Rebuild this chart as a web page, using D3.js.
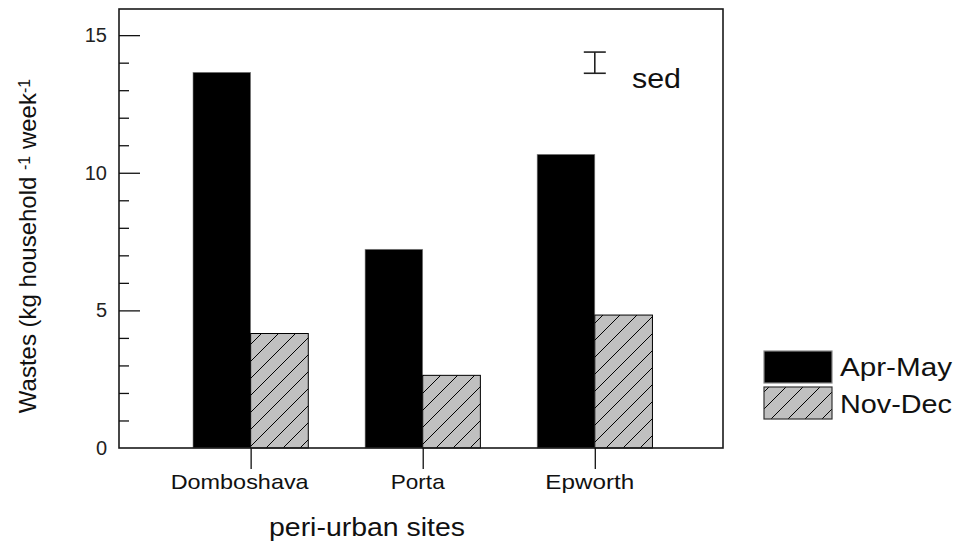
<!DOCTYPE html>
<html>
<head>
<meta charset="utf-8">
<script src="https://cdn.jsdelivr.net/npm/d3@7"></script>
<style>
  body { margin: 0; background: #fff; }
  svg { display: block; font-family: 'Liberation Sans', Arial, sans-serif; }
</style>
</head>
<body>
<svg id="chart"></svg>
<script>
// Data
const sites = ['Domboshava', 'Porta', 'Epworth'];
const aprMay = [13.65, 7.22, 10.67];
const novDec = [4.16, 2.64, 4.83];
const seriesNames = ['Apr-May', 'Nov-Dec'];
const yTicks = [0, 5, 10, 15];
const sedCentre = 14.0;
const sedValue = 0.77;

const width = 958;
const height = 544;
const plotLeft = 119, plotRight = 723, plotTop = 9, plotBottom = 448;

const svg = d3.select('#chart').attr('width', width).attr('height', height);

const x = d3.scaleLinear().domain([-0.765, 2.745]).range([plotLeft, plotRight]);
const y = d3.scaleLinear().domain([0, 15.95]).range([plotBottom, plotTop]);
const barW = x(0.335) - x(0);

// Hatch pattern for Nov-Dec
const defs = svg.append('defs');
const hs = 17;
const pat = defs.append('pattern')
  .attr('id', 'hatch')
  .attr('patternUnits', 'userSpaceOnUse')
  .attr('width', hs).attr('height', hs);
pat.append('rect').attr('width', hs).attr('height', hs).attr('fill', '#c0c0c0');
pat.append('path')
  .attr('d', `M0,${hs} L${hs},0 M-4,4 L4,-4 M${hs - 4},${hs + 4} L${hs + 4},${hs - 4}`)
  .attr('stroke', '#000').attr('stroke-width', 1);

const bars = sites.map((s, i) => ({ i, a: aprMay[i], n: novDec[i] }));

// Apr-May bars (left of tick)
svg.append('g').selectAll('rect')
  .data(bars)
  .join('rect')
  .attr('x', d => x(d.i) - barW)
  .attr('y', d => y(d.a))
  .attr('width', barW)
  .attr('height', d => y(0) - y(d.a))
  .attr('fill', '#000')
  .attr('stroke', '#888')
  .attr('stroke-width', 0.6);

// Nov-Dec bars (right of tick)
svg.append('g').selectAll('rect')
  .data(bars)
  .join('rect')
  .attr('x', d => x(d.i))
  .attr('y', d => y(d.n))
  .attr('width', barW)
  .attr('height', d => y(0) - y(d.n))
  .attr('fill', 'url(#hatch)')
  .attr('stroke', '#000')
  .attr('stroke-width', 1);

// Frame
svg.append('rect')
  .attr('x', plotLeft).attr('y', plotTop)
  .attr('width', plotRight - plotLeft).attr('height', plotBottom - plotTop)
  .attr('fill', 'none').attr('stroke', '#1a1a1a').attr('stroke-width', 1.6);

// Y ticks (inside, major every 5, minor every 1)
const yAxis = d3.axisRight(y)
  .tickValues(d3.range(0, 16, 1))
  .tickSize(10)
  .tickFormat('');
const yg = svg.append('g').attr('transform', `translate(${plotLeft},0)`).call(yAxis);
yg.select('.domain').remove();
yg.selectAll('.tick line')
  .attr('x2', d => (d % 5 === 0 ? 21 : 10))
  .attr('stroke', '#111').attr('stroke-width', 1.3);
yg.selectAll('.tick').filter(d => d === 0).remove();

svg.append('g').selectAll('text')
  .data(yTicks)
  .join('text')
  .attr('x', 107)
  .attr('y', d => y(d) + 7)
  .attr('text-anchor', 'end')
  .attr('font-size', 20)
  .attr('fill', '#222')
  .text(d => d);

// X ticks (outside, at group centres)
const xAxis = d3.axisBottom(x).tickValues(d3.range(sites.length)).tickSize(21).tickFormat('');
const xg = svg.append('g').attr('transform', `translate(0,${plotBottom})`).call(xAxis);
xg.select('.domain').remove();
xg.selectAll('.tick line').attr('stroke', '#111').attr('stroke-width', 1.3);

const labelW = [138, 54, 89];
svg.append('g').selectAll('text')
  .data(sites)
  .join('text')
  .attr('x', (d, i) => x(i) - 11 + (i === 0 ? 0 : 6))
  .attr('y', 489)
  .attr('text-anchor', 'middle')
  .attr('font-size', 21)
  .attr('textLength', (d, i) => labelW[i])
  .attr('lengthAdjust', 'spacingAndGlyphs')
  .attr('fill', '#111')
  .text(d => d);

// Axis titles
svg.append('text')
  .attr('x', 367).attr('y', 536)
  .attr('text-anchor', 'middle')
  .attr('font-size', 25)
  .attr('textLength', 196)
  .attr('lengthAdjust', 'spacingAndGlyphs')
  .attr('fill', '#111')
  .text('peri-urban sites');

const yt = svg.append('text')
  .attr('transform', 'translate(36,246) rotate(-90)')
  .attr('text-anchor', 'middle')
  .attr('font-size', 24)
  .attr('fill', '#111');
yt.append('tspan').text('Wastes (kg household ');
yt.append('tspan').attr('font-size', 16).attr('dy', -6).text('-1');
yt.append('tspan').attr('dy', 6).text(' week');
yt.append('tspan').attr('font-size', 16).attr('dy', -6).text('-1');

// sed bar
const sx = x(2);
const sed = svg.append('g').attr('stroke', '#222').attr('stroke-width', 1.6);
sed.append('line').attr('x1', sx).attr('x2', sx)
  .attr('y1', y(sedCentre + sedValue / 2)).attr('y2', y(sedCentre - sedValue / 2));
[sedCentre + sedValue / 2, sedCentre - sedValue / 2].forEach(v => {
  sed.append('line').attr('x1', sx - 11).attr('x2', sx + 11).attr('y1', y(v)).attr('y2', y(v));
});
svg.append('text')
  .attr('x', 632).attr('y', 88)
  .attr('font-size', 27)
  .attr('textLength', 49)
  .attr('lengthAdjust', 'spacingAndGlyphs')
  .attr('fill', '#111')
  .text('sed');

// Legend
const legend = svg.append('g');
const legendFill = ['#000', 'url(#hatch)'];
const legendStroke = ['#888', '#333'];
legend.selectAll('rect')
  .data(seriesNames)
  .join('rect')
  .attr('x', 764)
  .attr('y', (d, i) => 351 + i * 36)
  .attr('width', 68)
  .attr('height', 32)
  .attr('fill', (d, i) => legendFill[i])
  .attr('stroke', (d, i) => legendStroke[i])
  .attr('stroke-width', 1.2);
legend.selectAll('text')
  .data(seriesNames)
  .join('text')
  .attr('x', 840)
  .attr('y', (d, i) => 376 + i * 37)
  .attr('font-size', 25)
  .attr('textLength', 112)
  .attr('lengthAdjust', 'spacingAndGlyphs')
  .attr('fill', '#111')
  .text(d => d);
</script>
</body>
</html>
